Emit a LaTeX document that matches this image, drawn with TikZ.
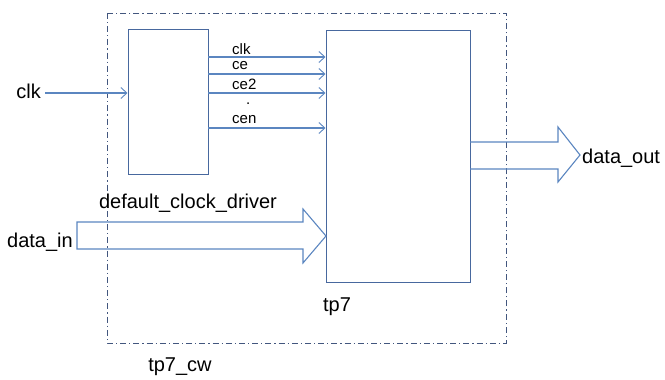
\documentclass[tikz,border=0pt]{standalone}
\usepackage{fontspec}
\setmainfont{Liberation Sans}
\usetikzlibrary{arrows.meta}
\usetikzlibrary{positioning}
\definecolor{WireCol}{RGB}{91,134,192}
\definecolor{BoxCol}{RGB}{72,104,158}
\definecolor{WrapCol}{RGB}{66,86,126}
\tikzset{
	>={Straight Barb[length=6pt, width=11pt, line width=0.9pt]},
	block/.style={draw=BoxCol, line width=1.0pt, inner sep=0pt},
	wire/.style={WireCol, line width=1.1pt, ->},
	bus/.style={draw=WireCol, line width=1.1pt, line join=miter},
	wrapper/.style={draw=WrapCol, line width=0.9pt, dash pattern=on 6pt off 3pt on 1.2pt off 3pt},
	sig/.style={font=\fontsize{15}{15}\selectfont, inner sep=0pt, anchor=west},
	blabel/.style={font=\fontsize{20}{20}\selectfont, inner sep=0pt},
}
\begin{document}
\begin{tikzpicture}[x=1pt, y=-1pt]
		\useasboundingbox (0,0) rectangle (665,380);
		
		% Wrapper (dash-dot)
		\draw[wrapper] (107,13) rectangle (506,343);
		
		% Blocks
		\node[block, minimum width=80pt, minimum height=145pt] (drv) at (168,101.5) {};
		\node[block, minimum width=144pt, minimum height=252pt] (tp) at (398,156) {};
		
		% Block names
		\node[blabel] (drvname) at (188,203) {default\_clock\_driver};
		\node[blabel] (tpname) at (337,307) {tp7};
		\node[blabel] (wrapname) at (180,367) {tp7\_cw};
		
		% Clock input
		\node[blabel, anchor=east] (clkin) at (41,91) {clk};
		\coordinate (clksrc) at (45,93);
		\draw[wire] (clksrc) -- (clksrc -| drv.west);
		
		% Clock / enable signals from the driver to tp7
		\foreach \y/\lab/\ly in {57/clk/49, 74/ce/66, 93/ce2/84, 128/cen/120} {
			\coordinate (s\lab) at (208,\y);
			\draw[wire] (s\lab) -- (s\lab -| tp.west);
			\node[sig] (l\lab) at (232,\ly) {\lab};
		}
		\node[sig, anchor=base west] (ldots) at (246,104) {.};
		
		% Bus data_in
		\node[blabel, anchor=east] (din) at (73,242) {data\_in};
		\draw[bus] (77,222) -- (303,222) -- (303,209) -- (326,236)
		-- (303,263) -- (303,249) -- (77,249) -- cycle;
		
		% Bus data_out
		\draw[bus] (470,142) -- (558,142) -- (558,127) -- (580,155)
		-- (558,182) -- (558,169) -- (470,169);
		\node[blabel, anchor=west] (dout) at (582,158) {data\_out};
		
	\end{tikzpicture}
\end{document}
